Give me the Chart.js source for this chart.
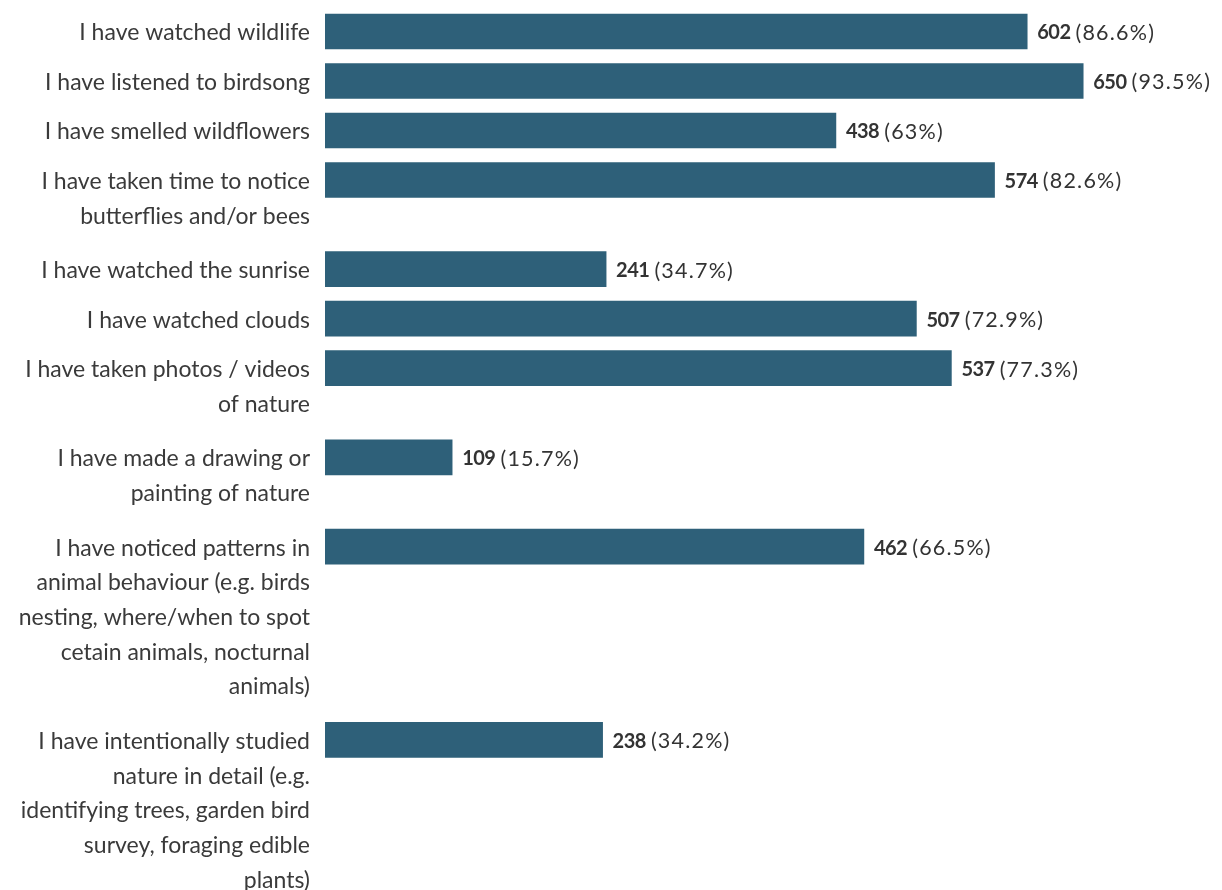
<!DOCTYPE html>
<html>
<head>
<meta charset="utf-8">
<script src="https://cdn.jsdelivr.net/npm/chart.js@4/dist/chart.umd.min.js"></script>
<style>
    body { margin: 0; background: #fff; }
    canvas { display: block; }
</style>
</head>
<body>
<canvas id="chart" width="1222" height="890"></canvas>
<script>
// activités nature - une ligne par entrée du libellé
const labels = [
    ['I have watched wildlife'],
    ['I have listened to birdsong'],
    ['I have smelled wildflowers'],
    ['I have taken time to notice', 'butterflies and/or bees'],
    ['I have watched the sunrise'],
    ['I have watched clouds'],
    ['I have taken photos / videos', 'of nature'],
    ['I have made a drawing or', 'painting of nature'],
    ['I have noticed patterns in', 'animal behaviour (e.g. birds', 'nesting, where/when to spot', 'cetain animals, nocturnal', 'animals)'],
    ['I have intentionally studied', 'nature in detail (e.g.', 'identifying trees, garden bird', 'survey, foraging edible', 'plants)']
];
const counts = [602, 650, 438, 574, 241, 507, 537, 109, 462, 238];
const percents = [86.6, 93.5, 63, 82.6, 34.7, 72.9, 77.3, 15.7, 66.5, 34.2];

// mise en page verticale (en pixels)
const ROW = 49.5;
const LINE = 34.7;
const EXTRA = 5;

// position de chaque ligne selon le nombre de lignes du libellé
const rowPos = [];
let acc = 0;
labels.forEach(l => {
    rowPos.push(acc);
    acc += ROW + (l.length - 1) * LINE + (l.length > 1 ? EXTRA : 0);
});

const tickPos = [];
const tickText = [];
labels.forEach((l, i) => {
    l.forEach((t, j) => {
        tickPos.push(rowPos[i] + j * LINE + 1.5);
        tickText.push(t);
    });
});

const valueLabels = {
    id: 'valueLabels',
    afterDatasetsDraw(chart) {
        const ctx = chart.ctx;
        const meta = chart.getDatasetMeta(0);
        ctx.save();
        ctx.textBaseline = 'middle';
        ctx.textAlign = 'left';
        ctx.fillStyle = '#333';
        meta.data.forEach((bar, i) => {
            const x = bar.x + 10;
            const y = bar.y + 1.5;
            ctx.font = 'bold 20px Lato';
            ctx.letterSpacing = '-0.5px';
            const v = String(counts[i]);
            ctx.fillText(v, x, y);
            const w = ctx.measureText(v).width;
            ctx.font = '21.5px Lato';
            ctx.letterSpacing = '1.2px';
            ctx.fillText('(' + percents[i] + '%)', x + w + 5, y);
        });
        ctx.restore();
    }
};

new Chart(document.getElementById('chart'), {
    type: 'bar',
    data: {
        datasets: [{
            data: counts.map((c, i) => ({ x: c, y: rowPos[i] })),
            backgroundColor: '#2e6079',
            barThickness: 35
        }]
    },
    options: {
        indexAxis: 'y',
        responsive: false,
        animation: false,
        layout: { padding: 0 },
        plugins: {
            legend: { display: false },
            tooltip: { enabled: false }
        },
        scales: {
            x: {
                type: 'linear',
                display: false,
                min: 0,
                max: 769
            },
            y: {
                type: 'linear',
                reverse: true,
                offset: false,
                bounds: 'data',
                min: -31.5,
                max: 890 - 31.5,
                grid: { display: false, drawTicks: false },
                border: { display: false },
                ticks: {
                    autoSkip: false,
                    padding: 15,
                    color: '#3a3a3a',
                    font: { family: 'Lato', size: 23 },
                    callback: (value, index) => tickText[index]
                },
                afterBuildTicks: (scale) => {
                    scale.ticks = tickPos.map(v => ({ value: v }));
                },
                afterFit: (scale) => {
                    scale.width = 325;
                    scale.paddingTop = 0;
                    scale.paddingBottom = 0;
                }
            }
        }
    },
    plugins: [valueLabels]
});
</script>
</body>
</html>
